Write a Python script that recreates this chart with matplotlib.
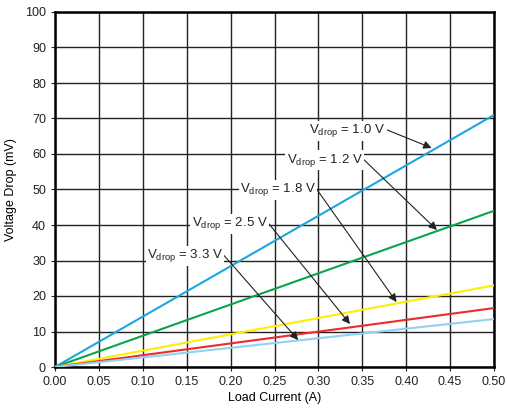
import matplotlib
matplotlib.use("Agg")
import matplotlib.pyplot as plt
import numpy as np

plt.rcParams['font.family'] = ['Liberation Sans', 'DejaVu Sans']
plt.rcParams['mathtext.fontset'] = 'custom'
plt.rcParams['mathtext.rm'] = 'Liberation Sans'
plt.rcParams['mathtext.default'] = 'regular'

# load current range (A)
current = [0.0, 0.5]
# voltage drop at 0.5 A (mV) for each Vdrop setting
vdrop_labels = ["1.0", "1.2", "1.8", "2.5", "3.3"]
drop_at_end = [71.0, 44.0, 23.0, 16.6, 13.5]
colors = ["#1aa7e0", "#0aa54a", "#ffee00", "#ee2a2a", "#8fd3f0"]

# annotation text position and arrow target (data coords)
text_pos = [(0.333, 66.5), (0.307, 58.3), (0.254, 49.9), (0.199, 40.3), (0.148, 31.3)]
arrow_to = [(0.429, 61.7), (0.435, 38.6), (0.389, 18.3), (0.336, 12.1), (0.277, 7.6)]

fig = plt.figure(figsize=(5.07, 4.11), dpi=100)
ax = fig.add_axes([55 / 507, 44 / 411, 439 / 507, 355 / 411])

for v, c in zip(drop_at_end, colors):
    ax.plot(current, [0, v], color=c, lw=1.5, zorder=3)

ax.set_xlim(0, 0.5)
ax.set_ylim(0, 100)
ax.set_xticks(np.arange(0, 0.501, 0.05))
ax.set_xticklabels(["%.2f" % t for t in np.arange(0, 0.501, 0.05)])
ax.set_yticks(np.arange(0, 101, 10))
ax.grid(True, color="#222222", lw=1.0)
ax.tick_params(labelsize=9, length=3, width=0.8, colors="#222222")
for s in ax.spines.values():
    s.set_linewidth(1.8)
ax.set_xlabel("Load Current (A)", fontsize=9, labelpad=3)
ax.set_ylabel("Voltage Drop (mV)", fontsize=9, labelpad=6)

for lab, tp, at in zip(vdrop_labels, text_pos, arrow_to):
    txt = r"V$_{drop}$ = " + lab + " V"
    ax.annotate(txt, xy=at, xytext=tp, textcoords="data", ha="center", va="center",
                fontsize=9.5, zorder=5, color="#222222",
                bbox=dict(boxstyle="square,pad=0.1", fc="white", ec="none"),
                arrowprops=dict(arrowstyle="-|>", color="#222222", lw=0.8,
                                mutation_scale=12, shrinkA=0, shrinkB=0,
                                relpos=(1.0, 0.6)))

fig.savefig("out.png", dpi=100)
